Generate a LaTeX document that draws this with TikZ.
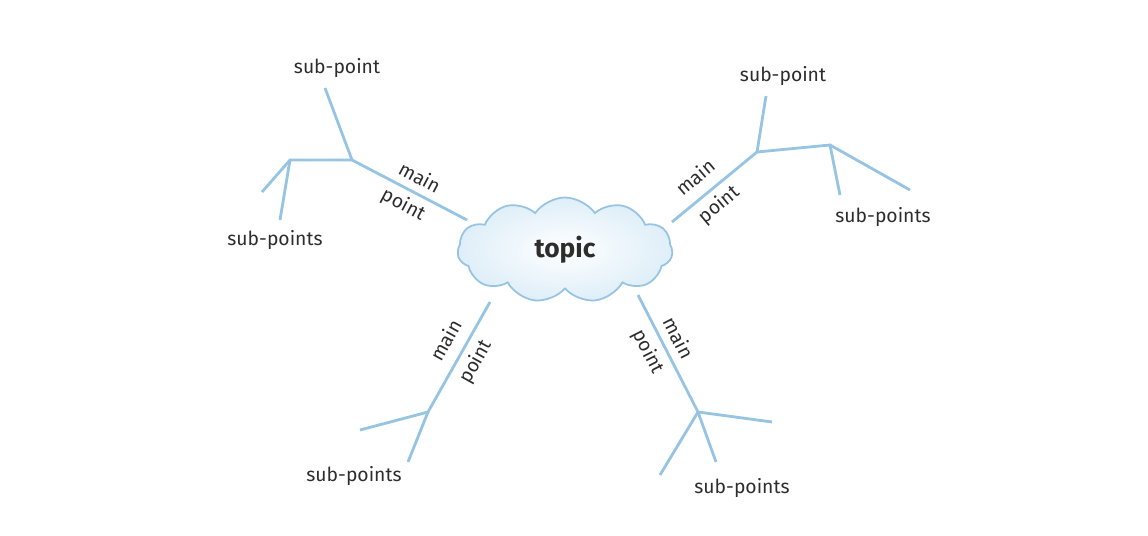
\documentclass[tikz,border=0pt]{standalone}
\usepackage{fontspec}
\setmainfont{Fira Sans}
\usetikzlibrary{shapes.symbols}
\definecolor{lb}{RGB}{150,196,226}
\definecolor{cf}{RGB}{222,238,248}
\definecolor{tx}{RGB}{45,45,45}
\begin{document}
\begin{tikzpicture}[x=0.02cm,y=-0.02cm,
  br/.style={draw=lb,line width=1.6pt},
  lbl/.style={text=tx,font=\fontsize{11}{13}\selectfont},
  ml/.style={text=tx,font=\fontsize{11}{13}\selectfont}]
\useasboundingbox (0,0) rectangle (1148,536);
\node[cloud,cloud puffs=11,cloud puff arc=110,aspect=2.3,minimum width=4.3cm,minimum height=2.1cm,
  draw=lb,line width=1pt,inner color=white,outer color=cf] (c) at (565,250) {};
\node[text=tx,font=\fontsize{15}{17}\selectfont\bfseries] (t) at (565,250) {topic};
% upper left
\coordinate (a0) at (467,220); \coordinate (a1) at (352,160); \coordinate (a2) at (325,88);
\coordinate (a3) at (290,160); \coordinate (a4) at (262,192); \coordinate (a5) at (280,220);
\draw[br] (a0)--(a1)--(a2); \draw[br] (a1)--(a3)--(a4); \draw[br] (a3)--(a5);
\node[lbl] (s1) at (337,68) {sub-point};
\node[lbl] (s2) at (275,240) {sub-points};
\node[ml,rotate=-28] (m1) at (420,177) {main};
\node[ml,rotate=-28] (p1) at (403,205) {point};
% upper right
\coordinate (b0) at (672,222); \coordinate (b1) at (757,152); \coordinate (b2) at (766,96);
\coordinate (b3) at (830,145); \coordinate (b4) at (840,195); \coordinate (b5) at (910,190);
\draw[br] (b0)--(b1)--(b2); \draw[br] (b1)--(b3)--(b4); \draw[br] (b3)--(b5);
\node[lbl] (s3) at (783,76) {sub-point};
\node[lbl] (s4) at (883,217) {sub-points};
\node[ml,rotate=40] (m2) at (695,177) {main};
\node[ml,rotate=40] (p2) at (719,205) {point};
% lower left
\coordinate (c0) at (490,302); \coordinate (c1) at (428,412); \coordinate (c2) at (360,430);
\coordinate (c3) at (408,462);
\draw[br] (c0)--(c1)--(c2); \draw[br] (c1)--(c3);
\node[lbl] (s5) at (354,476) {sub-points};
\node[ml,rotate=61] (m3) at (446,340) {main};
\node[ml,rotate=61] (p3) at (476,362) {point};
% lower right
\coordinate (d0) at (638,295); \coordinate (d1) at (698,412); \coordinate (d2) at (772,422);
\coordinate (d3) at (660,475); \coordinate (d4) at (716,462);
\draw[br] (d0)--(d1)--(d2); \draw[br] (d1)--(d3); \draw[br] (d1)--(d4);
\node[lbl] (s6) at (742,488) {sub-points};
\node[ml,rotate=-63] (m4) at (679,338) {main};
\node[ml,rotate=-63] (p4) at (648,352) {point};
\end{tikzpicture}
\end{document}
